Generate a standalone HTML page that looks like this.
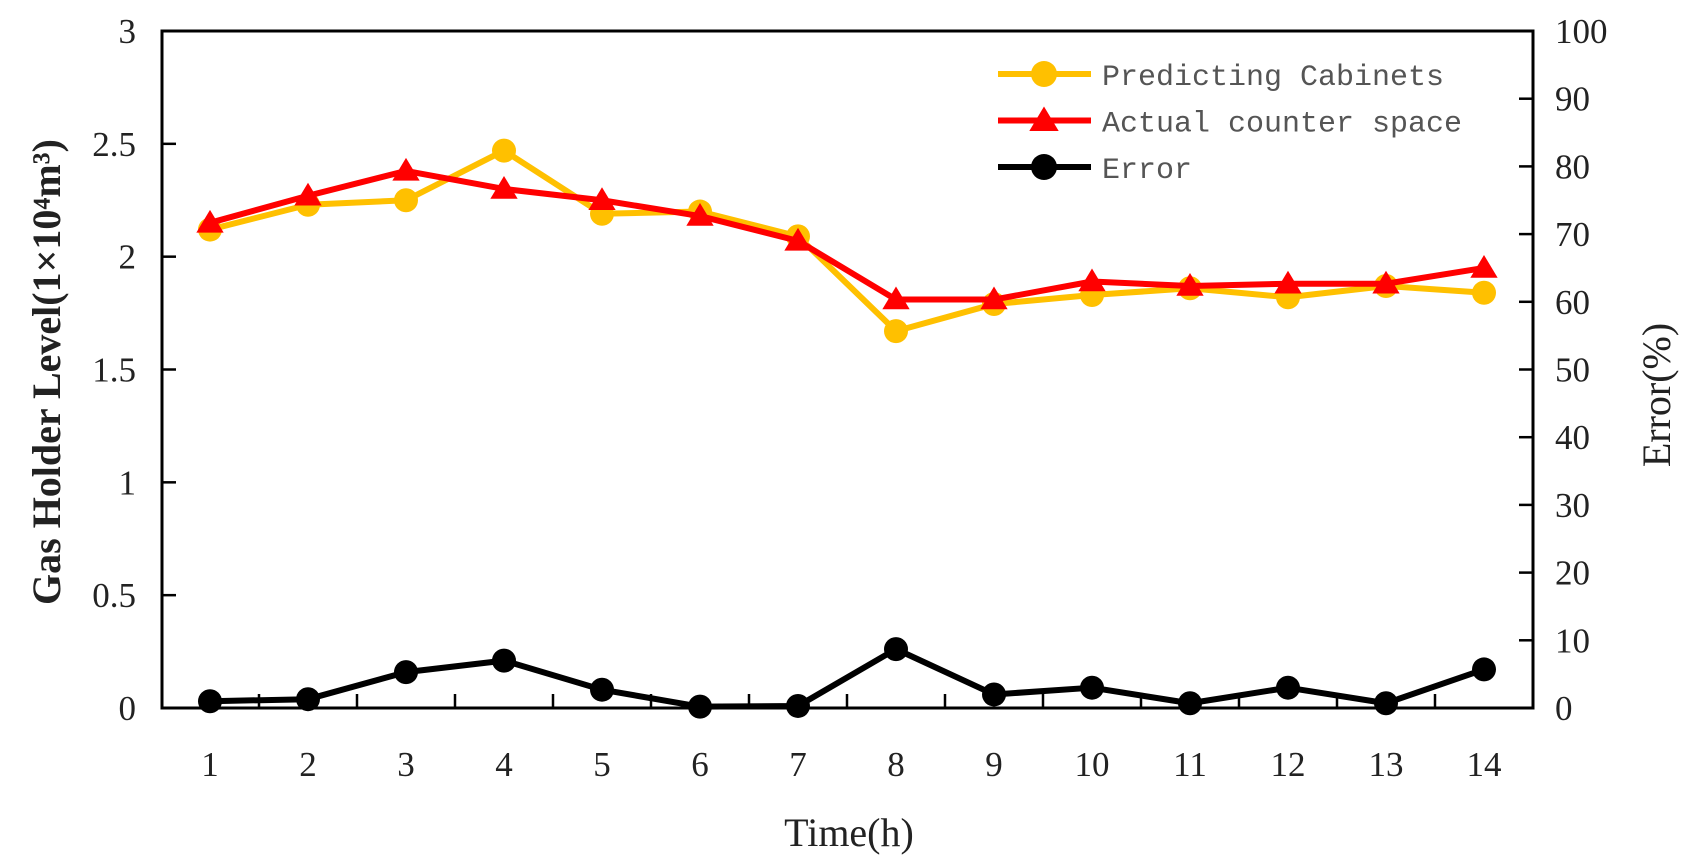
<!DOCTYPE html>
<html><head><meta charset="utf-8"><style>
html,body{margin:0;padding:0;background:#fff;}
svg{display:block;}
text{font-family:"Liberation Serif","Noto Serif CJK SC",serif;}
</style></head><body>
<svg id="chart" width="1697" height="868" viewBox="0 0 1697 868" xmlns="http://www.w3.org/2000/svg">
<g id="axes"></g>
<g id="series"></g>
<g id="legend"></g>
</svg>
<script>
const categories = [1,2,3,4,5,6,7,8,9,10,11,12,13,14];
const predicted = [2.12,2.23,2.25,2.47,2.19,2.20,2.09,1.67,1.79,1.83,1.86,1.82,1.87,1.84];
const actual = [2.15,2.27,2.38,2.30,2.25,2.18,2.07,1.81,1.81,1.89,1.87,1.88,1.88,1.95];
const errorPct = [1.0,1.3,5.3,7.0,2.7,0.2,0.3,8.7,2.0,3.0,0.7,3.0,0.7,5.7];
const leftTicks = [0,0.5,1,1.5,2,2.5,3];
const leftTickLabels = ["0","0.5","1","1.5","2","2.5","3"];
const rightTicks = [0,10,20,30,40,50,60,70,80,90,100];

const NS = "http://www.w3.org/2000/svg";
const L = 162, R = 1533, T = 31, B = 708;
const X0 = 210, X1 = 1484;
function xs(i){ return X0 + (X1 - X0) * i / (categories.length - 1); }
function yl(v){ return B - (B - T) * v / 3; }
function yr(v){ return B - (B - T) * v / 100; }
function mk(tag, attrs, parent){ const e = document.createElementNS(NS, tag); for (const k in attrs) e.setAttribute(k, attrs[k]); parent.appendChild(e); return e; }
const axes = document.getElementById('axes');
const series = document.getElementById('series');
const legend = document.getElementById('legend');

const frame = mk('rect', {x:L, y:T, width:R-L, height:B-T, fill:'none', stroke:'#000', 'stroke-width':3}, axes);



leftTicks.forEach((v, i) => {
  const y = yl(v);
  const t = mk('line', {x1:L, x2:L+14, y1:y, y2:y, stroke:'#000', 'stroke-width':2.5}, axes);
  
  
  const lb = mk('text', {x:L-26, y:y+12, 'text-anchor':'end', 'font-size':35, fill:'#222'}, axes);
  lb.textContent = leftTickLabels[i];
  
  
});
rightTicks.forEach(v => {
  const y = yr(v);
  const t = mk('line', {x1:R-14, x2:R, y1:y, y2:y, stroke:'#000', 'stroke-width':2.5}, axes);
  
  
  const lb = mk('text', {x:R+22, y:y+12, 'text-anchor':'start', 'font-size':35, fill:'#222'}, axes);
  lb.textContent = String(v);
  
  
});
categories.forEach((c, i) => {
  const x = xs(i);
  if (i > 0) {
    const xm = (xs(i) + xs(i-1)) / 2;
    const t = mk('line', {x1:xm, x2:xm, y1:B, y2:B-14, stroke:'#000', 'stroke-width':2.5}, axes);
    
    
  }
  const lb = mk('text', {x:x, y:776, 'text-anchor':'middle', 'font-size':35, fill:'#222'}, axes);
  lb.textContent = String(c);
  
  
});
const xt = mk('text', {x:849, y:846, 'text-anchor':'middle', 'font-size':40, fill:'#222'}, axes);
xt.textContent = 'Time(h)';


const ylt = mk('text', {x:0, y:0, 'text-anchor':'middle', 'font-size':40, 'font-weight':'bold', fill:'#222', transform:'translate(60,372) rotate(-90)'}, axes);
ylt.textContent = 'Gas Holder Level(1×10⁴m³)';


const yrt = mk('text', {x:0, y:0, 'text-anchor':'middle', 'font-size':40, fill:'#222', transform:'translate(1670,395) rotate(-90)'}, axes);
yrt.textContent = 'Error(%)';



function tri(x, y, s){ return `${x},${y-s} ${x-s*1.05},${y+s*0.75} ${x+s*1.05},${y+s*0.75}`; }
function drawSeries(vals, yfn, color, marker, name){
  const pts = vals.map((v, i) => xs(i) + ',' + yfn(v)).join(' ');
  const pl = mk('polyline', {points:pts, fill:'none', stroke:color, 'stroke-width':6, 'stroke-linejoin':'round'}, series);
  
  
  vals.forEach((v, i) => {
    let m;
    if (marker === 'circle') m = mk('circle', {cx:xs(i), cy:yfn(v), r:12, fill:color}, series);
    else m = mk('polygon', {points:tri(xs(i), yfn(v), 13), fill:color}, series);
    
    
  });
}
drawSeries(predicted, yl, '#FFC000', 'circle', 'predicted');
drawSeries(actual, yl, '#FF0000', 'triangle', 'actual');
drawSeries(errorPct, yr, '#000000', 'circle', 'error');

const legItems = [['Predicting Cabinets','#FFC000','circle'],['Actual counter space','#FF0000','triangle'],['Error','#000000','circle']];
legItems.forEach((it, k) => {
  const y = 74 + k * 46.5;
  const ln = mk('line', {x1:998, x2:1091, y1:y, y2:y, stroke:it[1], 'stroke-width':6}, legend);
  
  
  let m;
  if (it[2] === 'circle') m = mk('circle', {cx:1044, cy:y, r:13, fill:it[1]}, legend);
  else m = mk('polygon', {points:tri(1044, y, 14), fill:it[1]}, legend);
  
  
  const tx = mk('text', {x:1102, y:y+11, 'font-size':30, fill:'#555', style:'font-family:"Liberation Mono",monospace'}, legend);
  tx.textContent = it[0];
  
  
});
</script>
</body></html>
